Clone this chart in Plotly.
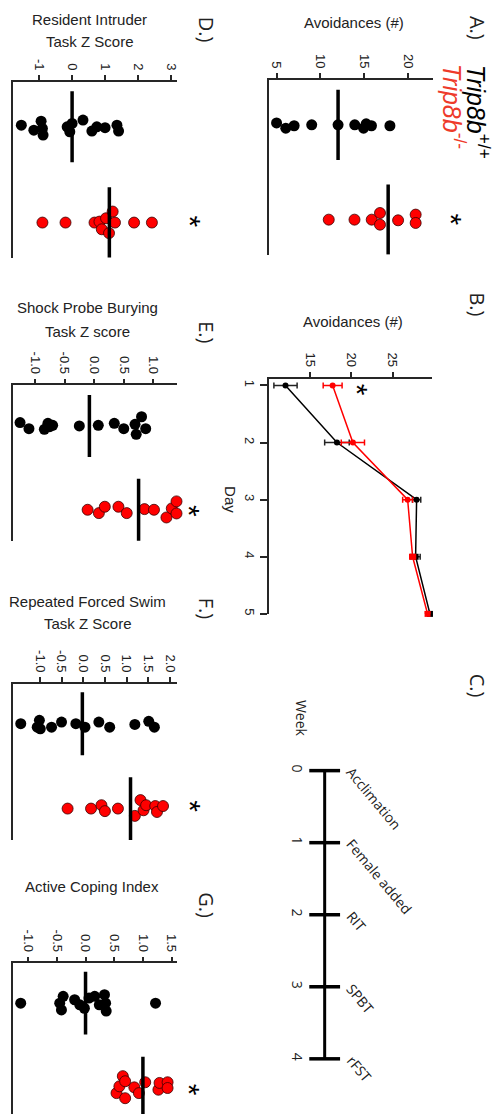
import plotly.graph_objects as go

W, H = 494, 1116
AX = "#262626"
RED = "#ff0000"
TXT_RED = "#ee3a2a"

# ---------------- data ----------------
groups = ["Trip8b+/+", "Trip8b-/-"]

# A: avoidances
A_wt = [5.0, 6.05, 7.0, 9.0, 12.0, 13.9, 14.9, 15.2, 15.8, 17.9]
A_ko = [10.94, 13.87, 15.83, 16.77, 16.77, 18.83, 20.83, 20.83, 22.86]
A_mean = [12.0, 17.7]
A_ticks = [5, 10, 15, 20]

# B: avoidances per day
days = [1, 2, 3, 4, 5]
B_wt = [12.08, 18.28, 27.88, 27.76, 29.49]
B_wt_err = [1.4, 1.48, 0.5, 0.55, 0.25]
B_ko = [17.76, 20.2, 26.8, 27.4, 29.2]
B_ko_err = [1.14, 1.4, 0.6, 0.35, 0.25]
B_ticks = [15, 20, 25]

# C: timeline
weeks = [0, 1, 2, 3, 4]
events = ["Acclimation", "Female added", "RIT", "SPBT", "rFST"]

# D: resident intruder z
D_wt = [-1.54, -1.16, -0.94, -0.9, -0.88, -0.15, -0.07, 0.0, 0.33, 0.6, 0.75, 1.0, 1.36, 1.41]
D_ko = [-0.9, -0.2, 0.68, 0.83, 0.9, 1.03, 1.12, 1.23, 1.3, 1.88, 2.42, 3.22]
D_mean = [0.0, 1.13]
D_ticks = [-1, 0, 1, 2, 3]
D_ticktext = ["-1", "0", "1", "2", "3"]

# E: shock probe burying z
E_wt = [-1.25, -1.10, -0.84, -0.78, -0.75, -0.70, -0.25, 0.07, 0.34, 0.50, 0.69, 0.71, 0.80, 0.87]
E_ko = [-0.11, 0.08, 0.18, 0.41, 0.55, 0.85, 1.01, 1.22, 1.31, 1.39, 1.39]
E_mean = [-0.08, 0.75]
E_ticks = [-1.0, -0.5, 0.0, 0.5, 1.0]
E_ticktext = ["-1.0", "-0.5", "0.0", "0.5", "1.0"]

# F: repeated forced swim z
F_wt = [-1.44, -1.06, -1.01, -0.99, -0.73, -0.50, -0.17, 0.04, 0.36, 0.61, 1.19, 1.51, 1.64]
F_ko = [-0.36, 0.18, 0.42, 0.5, 0.80, 1.19, 1.32, 1.39, 1.45, 1.66, 1.70, 1.84, 2.18]
F_mean = [-0.02, 1.09]
F_ticks = [-1.0, -0.5, 0.0, 0.5, 1.0, 1.5, 2.0]
F_ticktext = ["-1.0", "-0.5", "0.0", "0.5", "1.0", "1.5", "2.0"]

# G: active coping index
G_wt = [-1.13, -0.45, -0.39, -0.42, -0.19, -0.10, -0.02, 0.06, 0.16, 0.24, 0.33, 0.35, 0.36, 1.22]
G_ko = [0.54, 0.59, 0.65, 0.69, 0.69, 0.85, 0.93, 1.04, 1.27, 1.29, 1.43, 1.43, 1.60]
G_mean = [0.0, 1.0]
G_ticks = [-1.0, -0.5, 0.0, 0.5, 1.0, 1.5]
G_ticktext = ["-1.0", "-0.5", "0.0", "0.5", "1.0", "1.5"]

# vertical jitter (category units)
A_wt_j = [-0.02, 0.035, 0.01, 0, 0, 0, 0.035, -0.01, 0.01, 0.01]
A_ko_j = [0, 0, 0, -0.07, 0.053, 0.007, -0.053, 0.035, 0]
D_wt_j = [-0.017, 0.035, -0.059, 0.017, 0.087, 0, 0.052, -0.035, -0.07, 0.045, 0, 0.01, -0.017, 0.045]
D_ko_j = [0, 0, 0, -0.01, 0.07, -0.045, 0.11, -0.115, 0, 0, 0, 0]
E_wt_j = [-0.04, 0.032, 0.04, -0.032, 0.008, -0.008, 0, -0.008, -0.032, 0.032, -0.02, 0.1, -0.11, 0.032]
E_ko_j = [0, 0.04, -0.036, -0.036, 0.04, -0.008, 0, 0.092, -0.016, -0.1, 0.044]
F_wt_j = [0, 0.04, -0.04, 0.06, 0.04, -0.02, 0, 0.04, -0.02, 0.04, 0.008, -0.028, 0.04]
F_ko_j = [0, 0, -0.04, 0.03, 0, 0.086, -0.1, 0.02, -0.04, -0.03, 0.04, -0.03, 0.03]
G_wt_j = [0, 0, -0.08, 0.08, -0.04, 0.02, 0.06, -0.06, -0.08, 0.02, -0.1, 0, 0.093, 0]
G_ko_j = [0.06, -0.02, -0.14, 0.12, -0.08, -0.008, 0.06, -0.068, 0.02, -0.06, -0.068, 0, 0.06]

fig = go.Figure()
layout = dict(width=W, height=H, margin=dict(l=0, r=0, t=0, b=0),
              paper_bgcolor="white", plot_bgcolor="white", showlegend=False)
annotations = []

TICKFONT = dict(family="Arial, Liberation Sans", size=13, color="#222")


def ax_name(n, letter):
    return f"{letter}axis" if n == 1 else f"{letter}axis{n}"


def ref(n, letter):
    return letter if n == 1 else f"{letter}{n}"


def pa(text, x, y, size, angle=90, family="Open Sans", color="#222", xshift=0):
    annotations.append(dict(x=x / W, y=1 - y / H, xref="paper", yref="paper", text=text,
                            showarrow=False, textangle=angle, xanchor="center", yanchor="middle",
                            xshift=xshift, font=dict(family=family, size=size, color=color)))


def star(x, y):
    pa("*", x, y, 30, family="Arial", color="black", xshift=-6)


def dot_panel(n, xdom, ydom, xrange, yrange, tickvals, ticktext, wt, wtj, ko, koj, means):
    xr, yr = ref(n, "x"), ref(n, "y")
    layout[ax_name(n, "x")] = dict(
        domain=[xdom[0] / W, xdom[1] / W], range=xrange, side="top", anchor=yr,
        showline=True, linecolor=AX, linewidth=1.5, ticks="outside", ticklen=5,
        tickwidth=1.5, tickcolor=AX, tickvals=tickvals, ticktext=ticktext,
        tickangle=90, tickfont=TICKFONT, showgrid=False, zeroline=False)
    layout[ax_name(n, "y")] = dict(
        domain=[1 - ydom[1] / H, 1 - ydom[0] / H], range=yrange, anchor=xr,
        showline=True, linecolor=AX, linewidth=1.5, showticklabels=False,
        ticks="", showgrid=False, zeroline=False)
    fig.add_trace(go.Scatter(x=wt, y=[1 + j for j in wtj], mode="markers", xaxis=xr, yaxis=yr,
                             marker=dict(color="black", size=11, line=dict(width=0)),
                             cliponaxis=False, name=groups[0]))
    fig.add_trace(go.Scatter(x=ko, y=[2 + j for j in koj], mode="markers", xaxis=xr, yaxis=yr,
                             marker=dict(color=RED, size=11, line=dict(color="#3a0000", width=0.8)),
                             cliponaxis=False, name=groups[1]))
    for c, m in zip([1, 2], means):
        fig.add_trace(go.Scatter(x=[m, m], y=[c - 0.37, c + 0.37], mode="lines", xaxis=xr, yaxis=yr,
                                 line=dict(color="black", width=3.5), hoverinfo="skip"))


# Panel A
dot_panel(1, (270, 435), (80, 255), [4.13, 22.83], [2.368, 0.526], A_ticks, [str(t) for t in A_ticks],
          A_wt, A_wt_j, A_ko, A_ko_j, A_mean)
star(459, 220)
# Panel D
dot_panel(4, (13.3, 178), (82, 258), [-1.785, 3.19], [2.365, 0.531], D_ticks, D_ticktext,
          D_wt, D_wt_j, D_ko, D_ko_j, D_mean)
star(197, 222)
# Panel E
dot_panel(5, (13.3, 178), (386, 542), [-1.365, 1.403], [2.373, 0.515], E_ticks, E_ticktext,
          E_wt, E_wt_j, E_ko, E_ko_j, E_mean)
star(197, 512)
# Panel F
dot_panel(6, (13.3, 178), (685, 842), [-1.613, 2.168], [2.376, 0.529], F_ticks, F_ticktext,
          F_wt, F_wt_j, F_ko, F_ko_j, F_mean)
star(197, 808)
# Panel G
dot_panel(7, (13.3, 178), (965, 1116), [-1.26, 1.599], [2.306, 0.53], G_ticks, G_ticktext,
          G_wt, G_wt_j, G_ko, G_ko_j, G_mean)
star(197, 1092)

# Panel B: line chart
layout["xaxis2"] = dict(domain=[270 / W, 433.3 / W], range=[10.08, 29.68], side="top", anchor="y2",
                        showline=True, linecolor=AX, linewidth=1.5, ticks="outside", ticklen=6,
                        tickwidth=1.5, tickcolor=AX, tickvals=B_ticks, tickangle=90,
                        tickfont=TICKFONT, showgrid=False, zeroline=False)
layout["yaxis2"] = dict(domain=[1 - 615 / H, 1 - 380 / H], range=[5.0, 0.894], anchor="x2",
                        showline=True, linecolor=AX, linewidth=1.5, ticks="outside", ticklen=7,
                        tickwidth=1.5, tickcolor=AX, tickvals=days, tickangle=90,
                        tickfont=TICKFONT, showgrid=False, zeroline=False)
sym = ["circle", "circle", "circle", "square", "square"]
fig.add_trace(go.Scatter(x=B_wt, y=days, mode="lines+markers", xaxis="x2", yaxis="y2",
                         line=dict(color="black", width=1.5),
                         marker=dict(color="black", size=6, symbol=sym),
                         error_x=dict(type="data", array=B_wt_err, color="#222", thickness=1.5, width=3),
                         cliponaxis=False, name=groups[0]))
fig.add_trace(go.Scatter(x=B_ko, y=days, mode="lines+markers", xaxis="x2", yaxis="y2",
                         line=dict(color=RED, width=1.5),
                         marker=dict(color=RED, size=6, symbol=sym),
                         error_x=dict(type="data", array=B_ko_err, color=RED, thickness=1.5, width=3),
                         cliponaxis=False, name=groups[1]))
star(365, 390)

# Panel C: timeline
layout["xaxis3"] = dict(domain=[308 / W, 352 / W], range=[-0.692, 1.0], visible=False, anchor="y3")
layout["yaxis3"] = dict(domain=[1 - 1080 / H, 1 - 750 / H], range=[4.267, -0.305], anchor="x3",
                        showline=False, ticks="", tickvals=weeks, tickangle=90,
                        tickfont=dict(family="Open Sans", size=14, color="#222"),
                        showgrid=False, zeroline=False)
fig.add_trace(go.Scatter(x=[0] * len(weeks), y=weeks, mode="lines+markers", xaxis="x3", yaxis="y3",
                         line=dict(color="black", width=3),
                         marker=dict(symbol="line-ew", size=22, line=dict(color="black", width=3.5)),
                         cliponaxis=False, hoverinfo="skip"))
for wk, ev in zip(weeks, events):
    annotations.append(dict(x=0.58, y=wk - 0.14, xref="x3", yref="y3", text=ev, showarrow=False,
                            textangle=50, xanchor="left", yanchor="top",
                            font=dict(family="Open Sans", size=14, color="#222")))

# panel labels
pa("A.)", 479, 28, 20)
pa("B.)", 479, 305, 20)
pa("C.)", 479, 687, 20)
pa("D.)", 207, 30, 20)
pa("E.)", 207, 333, 20)
pa("F.)", 207, 610, 20)
pa("G.)", 207, 907, 20)
# legend
pa("<i>Trip8b</i><sup>+/+</sup>", 480, 112, 25, family="Arial", color="black")
pa("<i>Trip8b</i><sup>-/-</sup>", 456, 107, 25, family="Arial", color=TXT_RED)
# axis titles
AF = "Arial"
pa("Avoidances (#)", 355, 23, 15, angle=0, family=AF)
pa("Avoidances (#)", 354, 322, 15, angle=0, family=AF)
pa("Day", 232, 500, 15, family=AF)
pa("Week", 303, 720, 14, family="Open Sans")
pa("Resident Intruder", 90, 20, 15, angle=0, family=AF)
pa("Task Z Score", 90, 42, 15, angle=0, family=AF)
pa("Shock Probe Burying", 88, 308, 15, angle=0, family=AF)
pa("Task Z score", 88, 332, 15, angle=0, family=AF)
pa("Repeated Forced Swim", 88, 603, 15, angle=0, family=AF)
pa("Task Z Score", 88, 625, 15, angle=0, family=AF)
pa("Active Coping Index", 92, 888, 15, angle=0, family=AF)

layout["annotations"] = annotations
fig.update_layout(**layout)
fig.write_html("out.html", config={"displayModeBar": False},
               post_script="document.body.style.margin='0px';")
